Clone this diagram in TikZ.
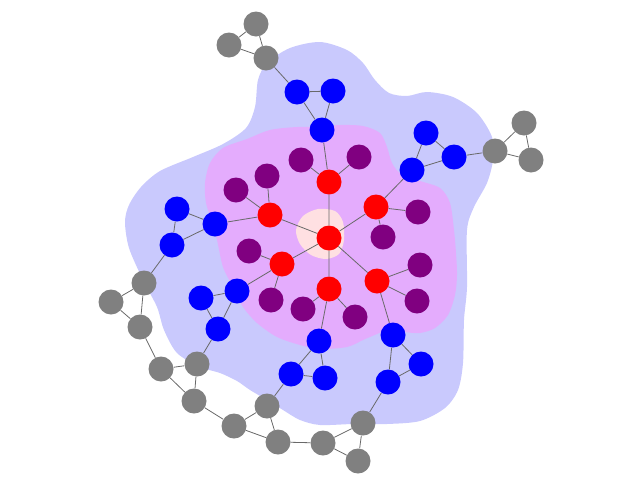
\documentclass[tikz,border=0pt]{standalone}
\definecolor{hullblue}{RGB}{201,201,253}
\definecolor{hullviolet}{RGB}{228,172,253}
\definecolor{hullpink}{RGB}{255,224,226}
\definecolor{edgegray}{RGB}{105,105,105}
\begin{document}
\begin{tikzpicture}[
    x=1pt,
    y=-1pt,
    vtx/.style={circle, inner sep=0pt, minimum size=25pt},
    rvtx/.style={vtx, fill=red},
    pvtx/.style={vtx, fill={rgb,255:red,128;green,0;blue,128}},
    bvtx/.style={vtx, fill=blue},
    gvtx/.style={vtx, fill={rgb,255:red,128;green,128;blue,128}},
    link/.style={draw=edgegray, line width=0.8pt}
]
\useasboundingbox (0,0) rectangle (640,480);

% hulls
\fill[hullblue] plot[smooth cycle] coordinates {
    (320,42) (347,50) (363,63) (375,80) (389,93) (407,96) (427,92) (453,97)
    (477,113) (492,137) (493,160) (487,183) (474,207) (467,230) (467,287)
    (464,320) (463,363) (458,390) (445,408) (420,421) (387,424) (353,424)
    (320,425) (300,420) (283,410) (267,400) (250,390) (237,381) (220,373)
    (200,367) (177,353) (164,330) (157,307) (143,280) (129,248) (125,222)
    (129,205) (141,187) (160,171) (193,157) (223,144) (246,128) (255,107)
    (258,80) (267,63) (290,48)};
\fill[hullviolet] plot[smooth cycle] coordinates {
    (320,127) (340,125) (363,126) (380,133) (387,147) (392,163) (401,174)
    (420,181) (440,188) (450,203) (454,230) (456,253) (457,275) (455,295)
    (448,315) (435,328) (420,333) (405,332) (390,329) (377,334) (363,340)
    (347,347) (320,349) (300,345) (277,337) (257,323) (243,307) (233,287)
    (223,267) (217,240) (212,221) (206,203) (205,183) (210,163) (223,148)
    (247,139) (270,130) (297,127)};
\fill[hullpink] plot[smooth cycle] coordinates {
    (318,209) (335,211) (343,222) (344,240) (339,254) (326,259) (311,255)
    (300,244) (296,230) (303,216)};

% core
\node[rvtx] (c) at (329,238) {};
\node[rvtx] (r1) at (329,182) {};
\node[rvtx] (r2) at (376,207) {};
\node[rvtx] (r3) at (377,281) {};
\node[rvtx] (r4) at (329,289) {};
\node[rvtx] (r5) at (282,264) {};
\node[rvtx] (r6) at (270,215) {};

% leaves
\node[pvtx] (p1) at (301,160) {};
\node[pvtx] (p2) at (359,157) {};
\node[pvtx] (p3) at (267,176) {};
\node[pvtx] (p4) at (236,190) {};
\node[pvtx] (p5) at (418,212) {};
\node[pvtx] (p6) at (383,237) {};
\node[pvtx] (p7) at (249,251) {};
\node[pvtx] (p8) at (271,300) {};
\node[pvtx] (p9) at (303,309) {};
\node[pvtx] (p10) at (355,317) {};
\node[pvtx] (p11) at (420,265) {};
\node[pvtx] (p12) at (417,301) {};

% triangles
\node[bvtx] (b1) at (322,130) {};
\node[bvtx] (b2) at (297,92) {};
\node[bvtx] (b3) at (333,91) {};
\node[bvtx] (b4) at (412,170) {};
\node[bvtx] (b5) at (426,133) {};
\node[bvtx] (b6) at (454,157) {};
\node[bvtx] (b7) at (215,224) {};
\node[bvtx] (b8) at (177,209) {};
\node[bvtx] (b9) at (172,245) {};
\node[bvtx] (b10) at (237,291) {};
\node[bvtx] (b11) at (201,298) {};
\node[bvtx] (b12) at (218,329) {};
\node[bvtx] (b13) at (319,341) {};
\node[bvtx] (b14) at (291,374) {};
\node[bvtx] (b15) at (325,378) {};
\node[bvtx] (b16) at (393,335) {};
\node[bvtx] (b17) at (421,364) {};
\node[bvtx] (b18) at (388,382) {};

% outer ring
\node[gvtx] (g1) at (266,58) {};
\node[gvtx] (g2) at (229,45) {};
\node[gvtx] (g3) at (256,24) {};
\node[gvtx] (g4) at (495,151) {};
\node[gvtx] (g5) at (524,123) {};
\node[gvtx] (g6) at (531,160) {};
\node[gvtx] (g7) at (144,283) {};
\node[gvtx] (g8) at (111,302) {};
\node[gvtx] (g9) at (140,327) {};
\node[gvtx] (g10) at (161,369) {};
\node[gvtx] (g11) at (197,364) {};
\node[gvtx] (g12) at (194,401) {};
\node[gvtx] (g13) at (234,426) {};
\node[gvtx] (g14) at (267,406) {};
\node[gvtx] (g15) at (278,442) {};
\node[gvtx] (g16) at (323,443) {};
\node[gvtx] (g17) at (363,423) {};
\node[gvtx] (g18) at (358,461) {};

% edges
\draw[link] (c) -- (r1) (c) -- (r2) (c) -- (r3) (c) -- (r4) (c) -- (r5) (c) -- (r6);
\draw[link] (r1) -- (p1) (r1) -- (p2) (r6) -- (p3) (r6) -- (p4)
    (r2) -- (p5) (r2) -- (p6) (r5) -- (p7) (r5) -- (p8)
    (r4) -- (p9) (r4) -- (p10) (r3) -- (p11) (r3) -- (p12);
\draw[link] (r1) -- (b1) (b1) -- (b2) (b1) -- (b3) (b2) -- (b3) (b2) -- (g1)
    (g1) -- (g2) (g1) -- (g3) (g2) -- (g3);
\draw[link] (r2) -- (b4) (b4) -- (b5) (b4) -- (b6) (b5) -- (b6) (b6) -- (g4)
    (g4) -- (g5) (g4) -- (g6) (g5) -- (g6);
\draw[link] (r6) -- (b7) (b7) -- (b8) (b7) -- (b9) (b8) -- (b9) (b9) -- (g7)
    (g7) -- (g8) (g7) -- (g9) (g8) -- (g9);
\draw[link] (r5) -- (b10) (b10) -- (b11) (b10) -- (b12) (b11) -- (b12) (b12) -- (g11)
    (g9) -- (g10) (g10) -- (g11) (g10) -- (g12) (g11) -- (g12);
\draw[link] (r4) -- (b13) (b13) -- (b14) (b13) -- (b15) (b14) -- (b15) (b14) -- (g14)
    (g12) -- (g13) (g13) -- (g14) (g13) -- (g15) (g14) -- (g15);
\draw[link] (r3) -- (b16) (b16) -- (b17) (b16) -- (b18) (b17) -- (b18) (b18) -- (g17)
    (g15) -- (g16) (g16) -- (g17) (g16) -- (g18) (g17) -- (g18);
\end{tikzpicture}
\end{document}
